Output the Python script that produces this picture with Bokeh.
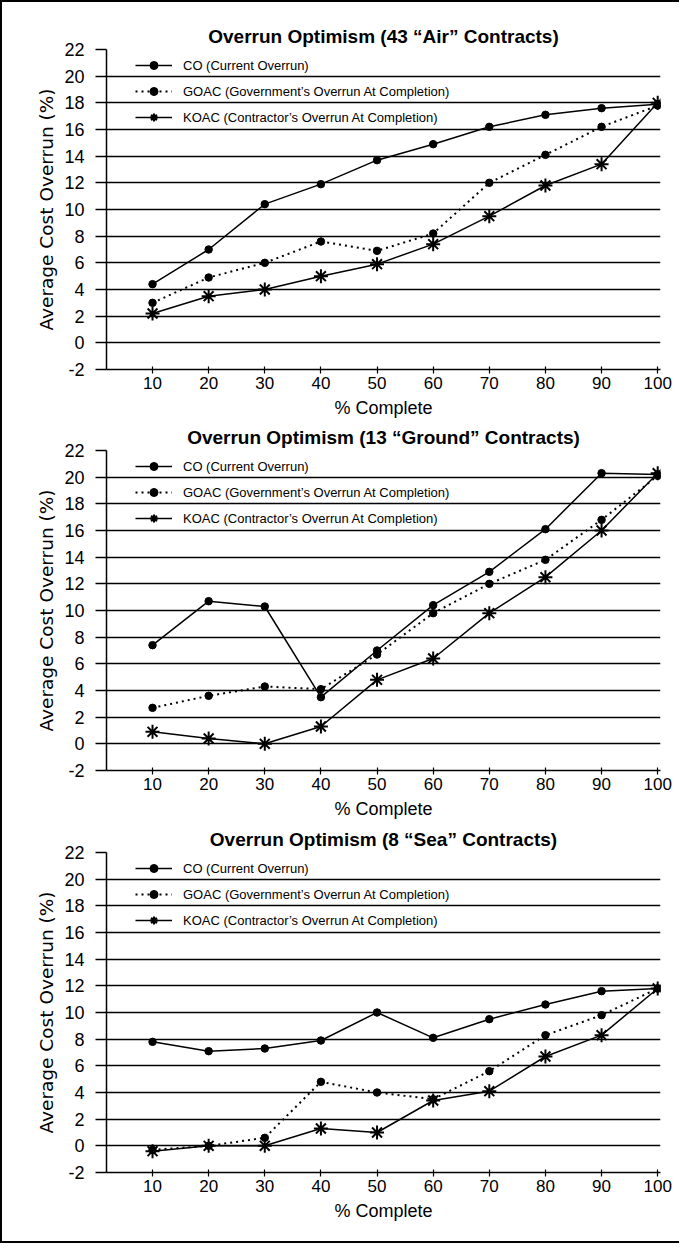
from bokeh.plotting import figure
from bokeh.layouts import column
from bokeh.models import Range1d, FixedTicker, Legend, LegendItem, PrintfTickFormatter
from bokeh.embed import file_html
from bokeh.resources import INLINE

# ---- data ----
pct_complete = [10, 20, 30, 40, 50, 60, 70, 80, 90, 100]
y_ticks = [-2, 0, 2, 4, 6, 8, 10, 12, 14, 16, 18, 20, 22]

titles = [
    "Overrun Optimism (43 \u201cAir\u201d Contracts)",
    "Overrun Optimism (13 \u201cGround\u201d Contracts)",
    "Overrun Optimism (8 \u201cSea\u201d Contracts)",
]
series_labels = [
    "CO (Current Overrun)",
    "GOAC (Government\u2019s Overrun At Completion)",
    "KOAC (Contractor\u2019s Overrun At Completion)",
]

air_co = [4.4, 7.0, 10.4, 11.9, 13.7, 14.9, 16.2, 17.1, 17.6, 17.9]
air_goac = [3.0, 4.9, 6.0, 7.6, 6.9, 8.2, 12.0, 14.1, 16.2, 17.8]
air_koac = [2.2, 3.5, 4.0, 5.0, 5.9, 7.4, 9.5, 11.8, 13.4, 18.0]

ground_co = [7.4, 10.7, 10.3, 3.5, 7.0, 10.4, 12.9, 16.1, 20.3, 20.2]
ground_goac = [2.7, 3.6, 4.3, 4.1, 6.7, 9.8, 12.0, 13.8, 16.8, 20.1]
ground_koac = [0.9, 0.4, 0.0, 1.3, 4.8, 6.4, 9.8, 12.5, 16.0, 20.3]

sea_co = [7.8, 7.1, 7.3, 7.9, 10.0, 8.1, 9.5, 10.6, 11.6, 11.8]
sea_goac = [-0.3, 0.0, 0.6, 4.8, 4.0, 3.5, 5.6, 8.3, 9.8, 11.8]
sea_koac = [-0.4, 0.0, 0.0, 1.3, 1.0, 3.4, 4.1, 6.7, 8.3, 11.8]

REG = "Liberation Sans"


def make_panel(title, co, goac, koac, height, top, bottom):
    p = figure(width=677, height=height, output_backend="svg", toolbar_location=None,
               x_range=Range1d(1.8, 100.5), y_range=Range1d(-2, 22),
               min_border_left=104, min_border_right=19,
               min_border_top=top, min_border_bottom=bottom)
    p.outline_line_color = None
    p.background_fill_color = "white"
    p.border_fill_color = "white"

    p.title.text = title
    p.title.align = "center"
    p.title.text_font = REG
    p.title.text_font_style = "bold"
    p.title.text_font_size = "19px"
    p.title.text_color = "black"
    p.title.standoff = 5

    p.xgrid.visible = False
    p.ygrid.ticker = FixedTicker(ticks=y_ticks)
    p.ygrid.grid_line_color = "black"
    p.ygrid.grid_line_width = 1.7

    xa = p.xaxis[0]
    xa.ticker = FixedTicker(ticks=pct_complete)
    xa.formatter = PrintfTickFormatter(format="%d")
    xa.axis_label = "% Complete"
    xa.axis_label_text_font = REG
    xa.axis_label_text_font_style = "normal"
    xa.axis_label_text_font_size = "18px"
    xa.axis_label_text_color = "black"
    xa.axis_label_standoff = 6
    xa.major_label_text_font = REG
    xa.major_label_text_font_size = "17px"
    xa.major_label_text_color = "black"
    xa.major_label_standoff = 3
    xa.major_tick_in = 3
    xa.major_tick_out = 4
    xa.minor_tick_line_color = None
    xa.axis_line_color = "black"
    xa.axis_line_width = 1.5
    xa.major_tick_line_color = "black"
    xa.major_tick_line_width = 1.2

    ya = p.yaxis[0]
    ya.ticker = FixedTicker(ticks=y_ticks)
    ya.formatter = PrintfTickFormatter(format="%d")
    ya.axis_label = "Average Cost Overrun (%)"
    ya.axis_label_text_font = "DejaVu Sans"
    ya.axis_label_text_font_style = "normal"
    ya.axis_label_text_font_size = "18.5px"
    ya.axis_label_text_color = "black"
    ya.axis_label_standoff = 4
    ya.major_label_text_font = REG
    ya.major_label_text_font_size = "18px"
    ya.major_label_text_color = "black"
    ya.major_label_standoff = 11
    ya.major_tick_in = 0
    ya.major_tick_out = 11
    ya.major_tick_line_color = "black"
    ya.major_tick_line_width = 1.7
    ya.minor_tick_line_color = None
    ya.axis_line_color = "black"
    ya.axis_line_width = 1.5

    l1 = p.line(pct_complete, co, line_color="black", line_width=1.5)
    m1 = p.scatter(pct_complete, co, marker="circle", size=7.5, fill_color="black", line_color="black")
    l2 = p.line(pct_complete, goac, line_color="black", line_width=2, line_dash="2 4")
    m2 = p.scatter(pct_complete, goac, marker="circle", size=7.5, fill_color="black", line_color="black")
    l3 = p.line(pct_complete, koac, line_color="black", line_width=1.5)
    m3 = p.scatter(pct_complete, koac, marker="asterisk", size=14, line_color="black", line_width=2)

    legend = Legend(items=[
        LegendItem(label=series_labels[0], renderers=[l1, m1]),
        LegendItem(label=series_labels[1], renderers=[l2, m2]),
        LegendItem(label=series_labels[2], renderers=[l3, m3]),
    ], location=(29, 242))
    legend.padding = 0
    legend.spacing = 6
    legend.glyph_width = 37
    legend.glyph_height = 20
    legend.label_height = 20
    legend.label_standoff = 11
    legend.label_text_font = REG
    legend.label_text_font_size = "13px"
    legend.label_text_color = "black"
    legend.background_fill_alpha = 0
    legend.border_line_alpha = 0
    p.add_layout(legend)
    return p


p1 = make_panel(titles[0], air_co, air_goac, air_koac, 420, 47, 53)
p2 = make_panel(titles[1], ground_co, ground_goac, ground_koac, 402, 28, 54)
p3 = make_panel(titles[2], sea_co, sea_goac, sea_koac, 417, 28, 69)

layout = column(p1, p2, p3, spacing=0, styles={
    "border-left": "2px solid black",
    "border-top": "2px solid black",
    "border-bottom": "2px solid black",
})

open("out.html", "w").write(file_html(layout, INLINE))
